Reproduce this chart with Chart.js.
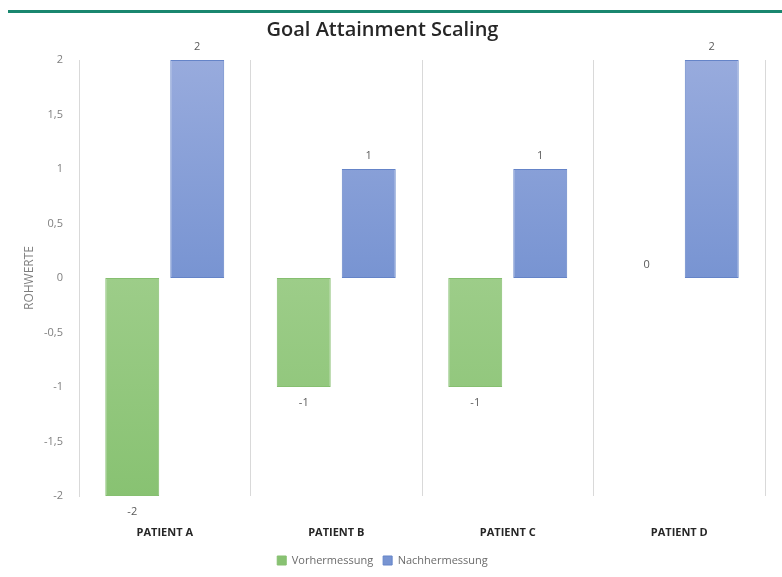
<!DOCTYPE html>
<html>
<head>
<meta charset="utf-8">
<script src="https://cdn.jsdelivr.net/npm/chart.js@4.4.0/dist/chart.umd.min.js"></script>
<style>
  html, body { margin: 0; padding: 0; background: #fff; }
  #wrap { position: relative; width: 782px; height: 577px; }
  #topline { position: absolute; top: 10px; left: 8px; right: 0; height: 3px; background: #19876f; }
</style>
</head>
<body>
<div id="wrap">
  <canvas id="gasChart" width="782" height="577"></canvas>
  <div id="topline"></div>
</div>
<script>
// data
const patients = ["PATIENT A", "PATIENT B", "PATIENT C", "PATIENT D"];
const vorher = [-2, -1, -1, 0];
const nachher = [2, 1, 1, 2];
const yTicks = [-2, -1.5, -1, -0.5, 0, 0.5, 1, 1.5, 2];

const fontFam = "'Open Sans', 'DejaVu Sans', sans-serif";

function fmt(v) {
  return String(v).replace(".", ",");
}

// vertical gradient between two values on the y scale
function barGradient(ctx, fromVal, toVal, c1, c2) {
  const chart = ctx.chart;
  const y = chart.scales.y;
  if (!chart.chartArea || !y) return c1;
  const g = chart.ctx.createLinearGradient(0, y.getPixelForValue(fromVal), 0, y.getPixelForValue(toVal));
  g.addColorStop(0, c1);
  g.addColorStop(1, c2);
  return g;
}

// value labels above / below the bars
const valueLabels = {
  id: "valueLabels",
  afterDatasetsDraw(chart) {
    const c = chart.ctx;
    c.save();
    c.font = "11px " + fontFam;
    c.fillStyle = "#595959";
    c.textAlign = "center";
    chart.data.datasets.forEach((ds, i) => {
      const meta = chart.getDatasetMeta(i);
      meta.data.forEach((bar, j) => {
        const v = ds.data[j];
        if (v < 0) {
          c.textBaseline = "top";
          c.fillText(fmt(v), bar.x, bar.y + 10);
        } else {
          c.textBaseline = "bottom";
          c.fillText(fmt(v), bar.x, bar.y - 8);
        }
      });
    });
    c.restore();
  }
};

document.addEventListener("DOMContentLoaded", function() {
  const ctx = document.getElementById("gasChart").getContext("2d");
  new Chart(ctx, {
    type: "bar",
    data: {
      labels: patients,
      datasets: [{
        label: "Vorhermessung",
        data: vorher,
        backgroundColor: c => barGradient(c, 0, -2, "#9dcd89", "#88c272"),
        borderColor: "#86bf70",
        borderWidth: 1,
        borderSkipped: false
      }, {
        label: "Nachhermessung",
        data: nachher,
        backgroundColor: c => barGradient(c, 2, 0, "#98abdd", "#7894d2"),
        borderColor: "#6584c8",
        borderWidth: 1,
        borderSkipped: false
      }]
    },
    options: {
      responsive: false,
      animation: false,
      devicePixelRatio: 1,
      layout: { padding: { left: 0, right: 17, top: 0, bottom: 1 } },
      categoryPercentage: 0.758,
      barPercentage: 0.83,
      scales: {
        x: {
          grid: { display: true, offset: true, color: "#d9d9d9", drawTicks: false },
          border: { display: false },
          ticks: {
            padding: 30,
            color: "#262626",
            font: { family: fontFam, size: 11, weight: "bold" }
          },
          afterFit: s => { s.height = 49; }
        },
        y: {
          min: -2,
          max: 2,
          afterBuildTicks: s => { s.ticks = yTicks.map(v => ({ value: v })); },
          grid: { display: false },
          border: { display: true, color: "#d9d9d9" },
          ticks: {
            padding: 8,
            color: "#7f7f7f",
            font: { family: fontFam, size: 11 },
            callback: v => fmt(v)
          },
          title: {
            display: true,
            text: "ROHWERTE",
            color: "#7f7f7f",
            font: { family: fontFam, size: 12 },
            padding: { top: 22, bottom: 0 }
          },
          afterFit: s => { s.width = 79; }
        }
      },
      plugins: {
        title: {
          display: true,
          text: "Goal Attainment Scaling",
          color: "#262626",
          font: { family: fontFam, size: 20, weight: "600" },
          padding: { top: 18, bottom: 18 }
        },
        legend: {
          position: "bottom",
          labels: {
            boxWidth: 9,
            boxHeight: 9,
            padding: 10,
            color: "#6b6b6b",
            font: { family: fontFam, size: 11 }
          }
        },
        tooltip: { enabled: false }
      }
    },
    plugins: [valueLabels]
  });
});
</script>
</body>
</html>
